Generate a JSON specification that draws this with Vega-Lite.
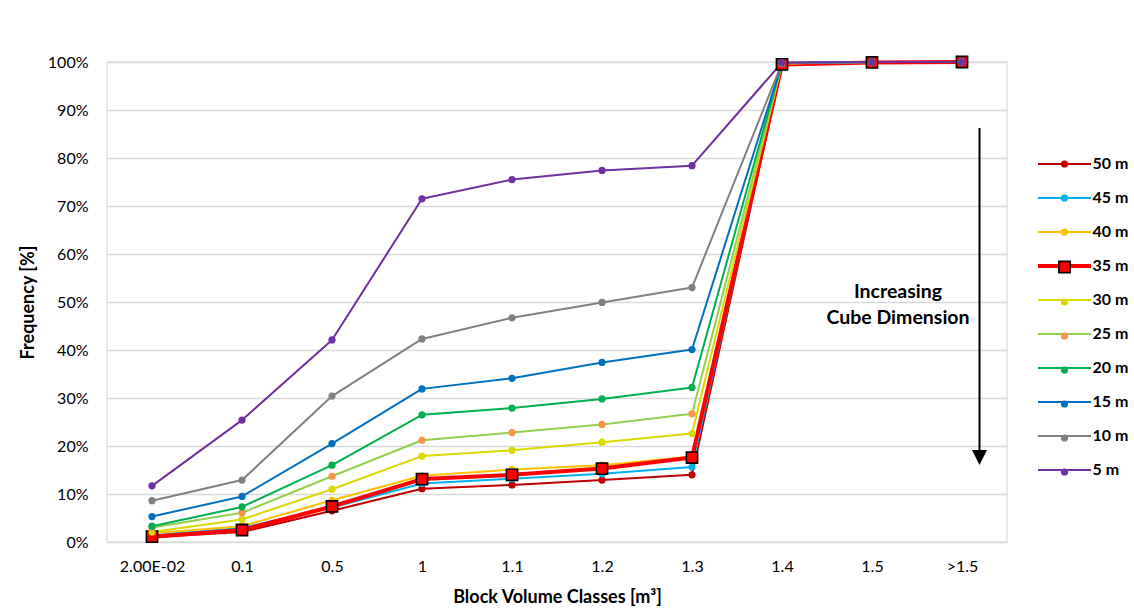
{
  "$schema": "https://vega.github.io/schema/vega-lite/v6.json",
  "width": 900,
  "height": 480,
  "autosize": {"type": "none"},
  "padding": {"left": 107, "top": 62, "right": 127, "bottom": 70},
  "background": "white",
  "config": {
    "font": "Lato",
    "view": {"stroke": "#E6E2D8", "strokeWidth": 1.5}
  },
  "layer": [
    {
      "data": {
        "values": [
          {"c": "2.00E-02", "50 m": 1.0, "45 m": 1.4, "40 m": 1.8, "35 m": 1.1, "30 m": 2.1, "25 m": 3.0, "20 m": 3.3, "15 m": 5.3, "10 m": 8.6, "5 m": 11.7},
          {"c": "0.1", "50 m": 2.1, "45 m": 2.9, "40 m": 3.3, "35 m": 2.5, "30 m": 4.7, "25 m": 6.1, "20 m": 7.3, "15 m": 9.5, "10 m": 12.9, "5 m": 25.4},
          {"c": "0.5", "50 m": 6.5, "45 m": 7.2, "40 m": 8.7, "35 m": 7.4, "30 m": 11.0, "25 m": 13.7, "20 m": 16.0, "15 m": 20.5, "10 m": 30.4, "5 m": 42.1},
          {"c": "1", "50 m": 11.1, "45 m": 12.2, "40 m": 13.8, "35 m": 13.1, "30 m": 17.9, "25 m": 21.2, "20 m": 26.5, "15 m": 31.9, "10 m": 42.3, "5 m": 71.5},
          {"c": "1.1", "50 m": 11.9, "45 m": 13.2, "40 m": 15.1, "35 m": 14.0, "30 m": 19.1, "25 m": 22.8, "20 m": 27.9, "15 m": 34.1, "10 m": 46.7, "5 m": 75.5},
          {"c": "1.2", "50 m": 12.9, "45 m": 14.2, "40 m": 16.0, "35 m": 15.3, "30 m": 20.8, "25 m": 24.5, "20 m": 29.8, "15 m": 37.4, "10 m": 49.9, "5 m": 77.4},
          {"c": "1.3", "50 m": 14.0, "45 m": 15.6, "40 m": 17.8, "35 m": 17.6, "30 m": 22.6, "25 m": 26.7, "20 m": 32.2, "15 m": 40.1, "10 m": 53.0, "5 m": 78.4},
          {"c": "1.4", "50 m": 99.5, "45 m": 99.6, "40 m": 99.6, "35 m": 99.5, "30 m": 99.7, "25 m": 99.7, "20 m": 99.8, "15 m": 99.8, "10 m": 99.8, "5 m": 99.9},
          {"c": "1.5", "50 m": 99.9, "45 m": 100, "40 m": 100, "35 m": 99.9, "30 m": 100, "25 m": 100, "20 m": 100, "15 m": 100, "10 m": 100, "5 m": 100},
          {"c": ">1.5", "50 m": 100, "45 m": 100, "40 m": 100, "35 m": 100, "30 m": 100, "25 m": 100, "20 m": 100, "15 m": 100, "10 m": 100, "5 m": 100}
        ]
      },
      "transform": [
        {"fold": ["50 m", "45 m", "40 m", "35 m", "30 m", "25 m", "20 m", "15 m", "10 m", "5 m"], "as": ["s", "v"]}
      ],
      "encoding": {
        "x": {
          "field": "c",
          "type": "ordinal",
          "scale": {"type": "point", "padding": 0.5, "domain": ["2.00E-02", "0.1", "0.5", "1", "1.1", "1.2", "1.3", "1.4", "1.5", ">1.5"]},
          "axis": {
            "title": "Block Volume Classes [m³]",
            "titleFont": "Lato",
            "titleFontSize": 18,
            "titleFontWeight": "bold",
            "titleColor": "black",
            "titlePadding": 14,
            "labelFont": "Lato",
            "labelFontSize": 16,
            "labelColor": "black",
            "labelAngle": 0,
            "labelPadding": 16,
            "ticks": false,
            "domain": false,
            "grid": false
          }
        },
        "y": {
          "field": "v",
          "type": "quantitative",
          "scale": {"domain": [0, 100], "nice": false, "zero": true},
          "axis": {
            "title": "Frequency [%]",
            "titleFont": "Lato",
            "titleFontSize": 18,
            "titleFontWeight": "bold",
            "titleColor": "black",
            "titlePadding": 10,
            "values": [0, 10, 20, 30, 40, 50, 60, 70, 80, 90, 100],
            "labelExpr": "datum.value + '%'",
            "labelFont": "Lato",
            "labelFontSize": 16,
            "labelColor": "black",
            "labelPadding": 19,
            "ticks": false,
            "domain": false,
            "grid": true,
            "gridColor": "#D9D9D9",
            "gridWidth": 1.5
          }
        }
      },
      "layer": [
        {
          "mark": {"type": "line", "strokeJoin": "round"},
          "encoding": {
            "order": {"value": null},
            "stroke": {
              "field": "s",
              "type": "nominal",
              "scale": {
                "domain": ["50 m", "45 m", "40 m", "35 m", "30 m", "25 m", "20 m", "15 m", "10 m", "5 m"],
                "range": ["#C00000", "#00B0F0", "#FFC000", "#FF0000", "#D9D900", "#92D050", "#00B050", "#0070C0", "#808080", "#7030A0"]
              },
              "legend": {
                "orient": "none",
                "legendX": 949.5,
                "legendY": 94,
                "title": null,
                "padding": 0,
                "symbolType": "M-5.3,0H5.3",
                "symbolSize": 100,
                "symbolStrokeWidth": 2,
                "labelOffset": 20,
                "labelFont": "Lato",
                "labelFontSize": 16,
                "labelFontWeight": "bold",
                "labelColor": "black",
                "rowPadding": 18,
                "encode": {"symbols": {"update": {"strokeWidth": {"signal": "datum.value === '35 m' ? 4 : 2"}}}}
              }
            },
            "strokeWidth": {"condition": {"test": "datum.s === '35 m'", "value": 4}, "value": 2}
          }
        },
        {
          "mark": {"type": "point", "filled": true, "stroke": "black", "opacity": 1},
          "encoding": {
            "color": {
              "field": "s",
              "type": "nominal",
              "sort": null,
              "scale": {"range": ["#C00000", "#00B0F0", "#FFC000", "#FF0000", "#D9D900", "#F79646", "#00B050", "#0070C0", "#808080", "#7030A0"]},
              "legend": {
                "orient": "none",
                "legendX": 949.5,
                "legendY": 94,
                "title": null,
                "padding": 0,
                "labelOpacity": 0,
                "labelFontSize": 16,
                "labelFont": "Lato",
                "labelFontWeight": "bold",
                "labelOffset": 20,
                "rowPadding": 18
              }
            },
            "shape": {
              "field": "s",
              "type": "nominal",
              "sort": null,
              "scale": {"range": ["circle", "circle", "circle", "square", "circle", "circle", "circle", "circle", "circle", "circle"]}
            },
            "size": {
              "field": "s",
              "type": "nominal",
              "sort": null,
              "scale": {"type": "ordinal", "range": [52, 52, 52, 125, 52, 52, 52, 52, 52, 52]}
            },
            "strokeWidth": {
              "field": "s",
              "type": "nominal",
              "sort": null,
              "scale": {"type": "ordinal", "range": [0, 0, 0, 1.6, 0, 0, 0, 0, 0, 0]}
            }
          }
        }
      ]
    },
    {
      "data": {"values": [{"a": 1}]},
      "mark": {"type": "text", "font": "Lato", "fontSize": 19.5, "fontWeight": "bold", "align": "center", "baseline": "middle", "lineHeight": 26, "dx": 26, "color": "black"},
      "encoding": {
        "x": {"datum": "1.5", "type": "ordinal"},
        "y": {"datum": 52.1, "type": "quantitative"},
        "text": {"value": ["Increasing", "Cube Dimension"]}
      }
    },
    {
      "data": {"values": [{"a": 1}]},
      "mark": {"type": "rule", "strokeWidth": 2, "color": "black", "xOffset": 17.5},
      "encoding": {
        "x": {"datum": ">1.5", "type": "ordinal"},
        "y": {"datum": 86.25, "type": "quantitative"},
        "y2": {"datum": 19}
      }
    },
    {
      "data": {"values": [{"a": 1}]},
      "mark": {"type": "point", "filled": true, "color": "black", "opacity": 1, "shape": "M-1,-1L1,-1L0,1Z", "size": 225, "xOffset": 17.5},
      "encoding": {
        "x": {"datum": ">1.5", "type": "ordinal"},
        "y": {"datum": 17.6, "type": "quantitative"}
      }
    }
  ]
}
